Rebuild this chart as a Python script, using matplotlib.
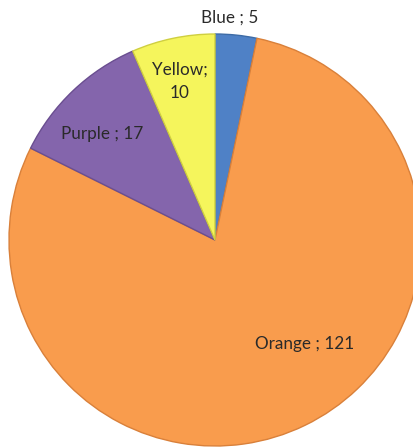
import matplotlib

matplotlib.use("Agg")
import matplotlib.pyplot as plt

labels = ["Blue", "Orange", "Purple", "Yellow"]
values = [5, 121, 17, 10]
colors = ["#4F81C6", "#F99C4D", "#8465AC", "#F5F55C"]
edges = ["#3D6BA6", "#D9803A", "#6A4E90", "#CFCF40"]

# label positions in pixel coords (x, y from top)
label_text = ["Blue ; 5", "Orange ; 121", "Purple ; 17", "Yellow;\n10"]
label_pos = [(230, 18), (305, 344), (102, 134), (180, 81)]

W, H = 413, 448
CX, CY, R = 215, 240, 206

fig = plt.figure(figsize=(W / 100, H / 100), dpi=100)
ax = fig.add_axes([0, 0, 1, 1])

wedges, _ = ax.pie(
    values,
    colors=colors,
    startangle=90,
    counterclock=False,
    center=(CX, H - CY),
    radius=R,
    frame=True,
    wedgeprops={"linewidth": 1.0},
)
for w, ec in zip(wedges, edges):
    w.set_edgecolor(ec)
ax.set_xlim(0, W)
ax.set_ylim(0, H)
ax.set_aspect("equal")
ax.axis("off")

for txt, (x, y) in zip(label_text, label_pos):
    ax.text(x, H - y, txt, ha="center", va="center", fontsize=12.3,
            family=["Lato", "DejaVu Sans"], color="#2a2a2a", linespacing=1.55)

fig.savefig("out.png", dpi=100)
